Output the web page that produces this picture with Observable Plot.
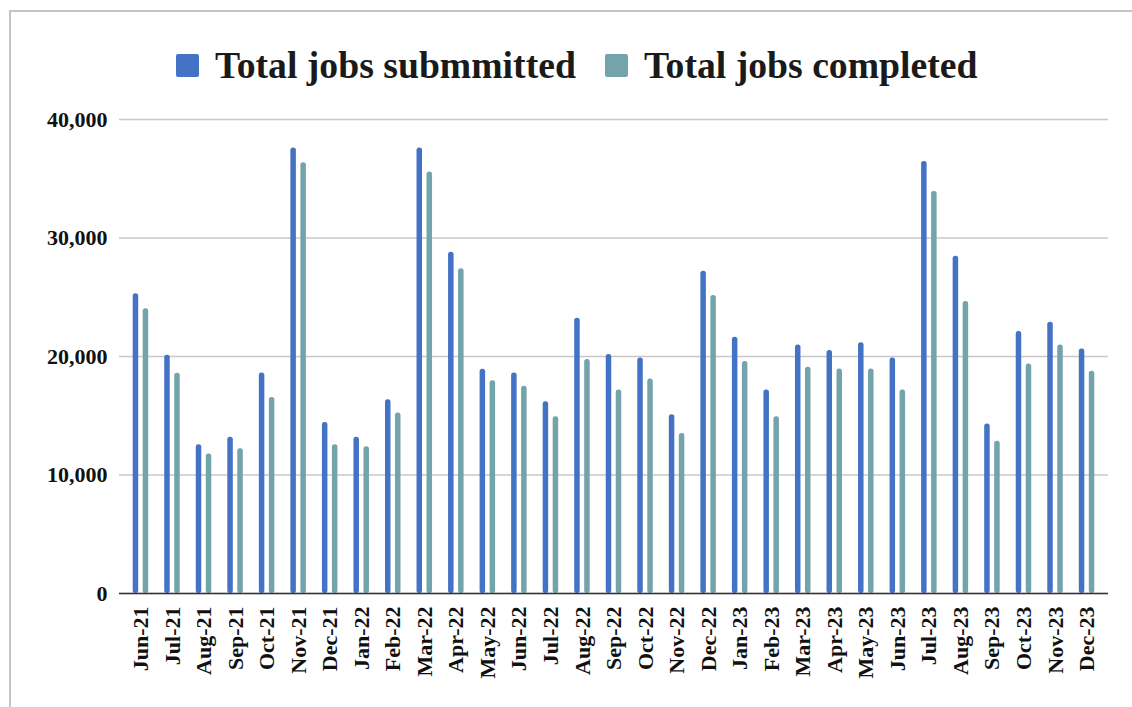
<!DOCTYPE html>
<html>
<head>
<meta charset="utf-8">
<script src="https://cdn.jsdelivr.net/npm/d3@7"></script>
<script src="https://cdn.jsdelivr.net/npm/@observablehq/plot@0.6"></script>
<style>
  html, body { margin: 0; padding: 0; background: #fff; width: 1132px; height: 707px; overflow: hidden; }
  #frame { position: absolute; left: 9px; top: 10px; right: 0; bottom: 0;
           border-left: 2px solid #c4c4c4; border-top: 2px solid #c4c4c4; }
  #legend { position: absolute; left: 176px; top: 42px; height: 46px; display: flex; align-items: center;
            font-family: "Liberation Serif", "Times New Roman", serif; font-weight: bold; font-size: 37.7px; color: #1a1a1a; white-space: nowrap; }
  .sw { width: 23px; height: 23px; border-radius: 2px; margin-right: 16px; }
  .item { display: flex; align-items: center; margin-right: 29px; }
  #chart { position: absolute; left: 0; top: 100px; }
</style>
</head>
<body>
<div id="frame"></div>
<div id="legend"></div>
<div id="chart"></div>
<script>
const months = ["Jun-21","Jul-21","Aug-21","Sep-21","Oct-21","Nov-21","Dec-21","Jan-22","Feb-22","Mar-22","Apr-22","May-22","Jun-22","Jul-22","Aug-22","Sep-22","Oct-22","Nov-22","Dec-22","Jan-23","Feb-23","Mar-23","Apr-23","May-23","Jun-23","Jul-23","Aug-23","Sep-23","Oct-23","Nov-23","Dec-23"];
const submitted = [25300,20100,12560,13180,18600,37600,14440,13180,16360,37600,28800,18920,18600,16190,23230,20160,19880,15090,27200,21620,17180,20980,20500,21150,19880,36460,28460,14310,22100,22890,20640];
const completed = [24020,18580,11770,12220,16550,36350,12560,12390,15230,35560,27400,17960,17480,14920,19740,17180,18110,13510,25140,19570,14920,19090,18950,18950,17180,33930,24640,12840,19370,20980,18750];
const seriesNames = ["Total jobs submmitted", "Total jobs completed"];
const seriesColors = ["#4472C4", "#73A3AB"];
const yTicks = [0, 10000, 20000, 30000, 40000];

const rows = months.map((m, i) => ({month: m, submitted: submitted[i], completed: completed[i]}));

const legend = document.getElementById("legend");
seriesNames.forEach((name, i) => {
  const it = document.createElement("div");
  it.className = "item";
  const sw = document.createElement("div");
  sw.className = "sw";
  sw.style.background = seriesColors[i];
  const t = document.createElement("span");
  t.textContent = name;
  it.appendChild(sw); it.appendChild(t);
  legend.appendChild(it);
});

const W = 1132, H = 607, mL = 119, mR = 24;
const pOuter = 0.18;
const step = (W - mL - mR) / (months.length + 2 * pOuter);
const barW = 5.5;
const inset = (step - barW) / 2;

const chart = Plot.plot({
  width: W, height: H,
  marginTop: 19, marginBottom: 114, marginLeft: mL, marginRight: mR,
  style: {fontFamily: "'Liberation Serif', 'Times New Roman', serif", fontWeight: "bold", fontSize: "22px", color: "#111", background: "transparent"},
  x: {domain: months, paddingInner: 0, paddingOuter: pOuter, round: false, label: null, tickRotate: -90, tickSize: 0, tickPadding: 13},
  y: {domain: [0, 40000], ticks: yTicks, tickFormat: d3.format(","), label: null, tickSize: 0, tickPadding: 12},
  marks: [
    Plot.gridY(yTicks, {stroke: "#c8c8c8", strokeOpacity: 1, strokeWidth: 1.5}),
    Plot.barY(rows, {x: "month", y: "submitted", fill: seriesColors[0], insetLeft: inset, insetRight: inset, dx: -5, rx: 2.5}),
    Plot.barY(rows, {x: "month", y: "completed", fill: seriesColors[1], insetLeft: inset, insetRight: inset, dx: 5, rx: 2.5}),
    Plot.ruleY([0], {stroke: "#333", strokeWidth: 1.5})
  ]
});
document.getElementById("chart").appendChild(chart);
</script>
</body>
</html>
